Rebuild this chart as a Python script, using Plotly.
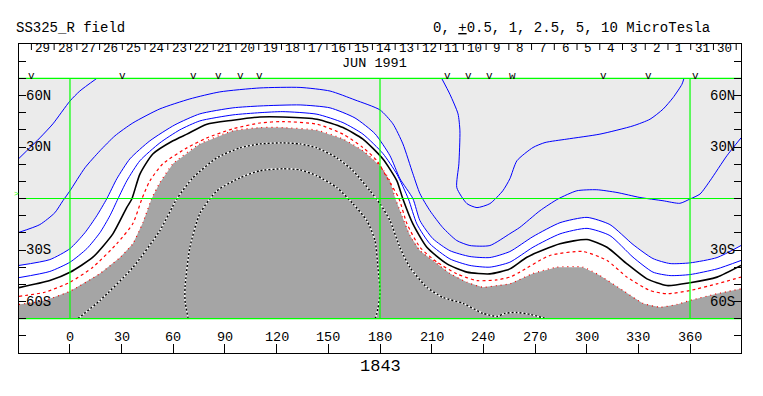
import plotly.graph_objects as go

# ---------------- axes extents ----------------
LON_RANGE = [-29.6, 389.6]
LAT_RANGE = [-90, 90]
LAT_TOP, LAT_BOT = 70, -70

# ---------------- contour traces (lon, lat) read from the map ----------------
# neutral line (0 uT)
N0_LON = [-29.6, -11.7, 0, 13.3, 24.9, 33.0, 35.9, 40.6, 48.1, 59.8, 67.9, 79.5, 94.6, 110.3, 123.6, 143.4,
          158.5, 170.1, 181.7, 189.8, 193.3, 199.1, 207.2, 218.9, 230.5, 243.8, 255.4, 265.3, 284.5, 300.2,
          311.8, 323.4, 335.0, 346.6, 360.0, 375.7, 389.6]
N0_LAT = [-51.9, -47.8, -43.0, -34.2, -20.6, -5.2, -0.3, 14.2, 25.9, 33.6, 37.5, 43.3, 45.6, 47.5, 47.5, 46.2,
          41.3, 34.6, 23.0, 10.3, -0.3, -14.8, -28.4, -38.1, -42.9, -43.9, -41.0, -34.2, -26.4, -23.9,
          -28.4, -38.1, -46.8, -50.7, -49.1, -45.8, -39.0]
# -0.5 uT
M05_LON = [-29.6, -11.7, 0, 9.8, 17.4, 23.2, 27.8, 33.0, 40.6, 52.2, 63.8, 75.4, 94.6, 110.3, 123.6, 143.4,
           158.5, 170.1, 181.7, 189.8, 196.5, 201.4, 209.0, 220.6, 232.2, 243.8, 255.4, 268.8, 284.5, 300.2,
           313.5, 326.9, 338.5, 348.4, 360.0, 375.7, 389.6]
M05_LAT = [-46.1, -42.5, -37.1, -29.2, -19.9, -10.0, -0.3, 10.3, 22.0, 32.4, 40.0, 45.2, 48.7, 50.0, 50.6, 49.1,
           44.2, 37.5, 26.2, 14.2, -0.3, -14.8, -26.4, -35.2, -39.0, -40.0, -37.1, -28.4, -20.6, -17.4,
           -21.6, -34.2, -42.9, -44.9, -44.3, -41.0, -36.1]
# -1 uT
M1_LON = [-29.6, -11.7, 0, 8.7, 15.6, 21.4, 27.2, 34.8, 46.4, 60.9, 75.4, 94.6, 110.3, 133.6, 151.0, 165.5,
          177.1, 185.8, 191.6, 199.1, 203.2, 210.7, 220.6, 232.2, 243.8, 255.4, 268.8, 284.5, 300.2, 313.5,
          326.9, 338.5, 348.4, 360.0, 375.7, 389.6]
M1_LAT = [-39.0, -35.6, -29.2, -19.9, -10.0, -0.1, 11.5, 23.1, 33.6, 42.9, 49.3, 52.8, 53.9, 54.5, 52.8, 46.9,
          37.7, 24.9, 11.5, -0.1, -12.9, -23.4, -30.4, -33.8, -34.4, -30.9, -22.2, -14.1, -11.0, -15.2,
          -26.8, -35.0, -37.9, -37.5, -34.4, -27.4]
# -2.5 uT
M25_LON = [-29.6, -17.5, -8.8, -4.1, 0, 8.7, 17.4, 26.1, 36.5, 52.2, 69.6, 87.0, 110.3, 133.6, 151.0, 165.5,
           180.0, 187.5, 193.3, 199.1, 203.2, 209.0, 216.5, 224.6, 232.2, 243.8, 255.4, 261.2, 272.9, 283.3,
           294.3, 305.9, 317.6, 330.9, 344.3, 354.1, 360.0, 365.8, 371.6, 381.4, 389.6]
M25_LAT = [-19.7, -15.2, -8.3, -1.3, 4.5, 17.9, 27.8, 36.5, 44.0, 52.2, 58.0, 62.1, 64.4, 64.7, 62.6, 57.4,
           51.6, 43.5, 31.8, 14.4, 2.8, -7.1, -17.0, -24.5, -27.4, -27.4, -20.5, -16.8, -7.1, -0.3,
           4.5, 5.1, 3.5, 0.6, -1.3, -2.8, -0.3, 2.6, 10.3, 24.9, 35.3]
# -5 uT (two pieces)
M5A_LON = [-29.6, -17.5, -9.9, 0, 5.7, 15.6]
M5A_LAT = [23.4, 35.3, 43.5, 56.8, 62.6, 70.0]
M5B_LON = [215.8, 220.6, 225.3, 226.4, 225.8, 224.6, 230.5, 236.3, 243.8, 251.3, 255.4, 259.5, 268.8, 275.8,
           288.5, 307.7, 326.9, 336.8, 344.3, 350.1, 355.3, 356.5]
M5B_LAT = [70.0, 60.7, 49.3, 39.4, 20.2, 6.3, -3.0, -5.3, -3.0, 4.5, 11.5, 22.0, 29.7, 32.6,
           34.6, 37.5, 42.3, 46.2, 52.0, 58.7, 66.5, 70.0]
# +0.5 uT
P05_LON = [-29.6, -14.6, 0, 13.3, 27.2, 36.5, 41.8, 46.4, 53.9, 67.9, 79.5, 94.6, 110.3, 123.6, 143.4, 158.5,
           170.1, 178.2, 184.0, 191.0, 195.6, 203.2, 213.1, 224.6, 236.3, 247.9, 255.4, 261.2, 278.6, 297.8,
           311.8, 323.4, 336.8, 346.6, 360.0, 375.7, 389.6]
P05_LAT = [-57.0, -54.6, -48.8, -40.0, -26.3, -14.6, -0.1, 10.3, 20.2, 29.5, 35.3, 40.6, 44.0, 44.8, 43.3, 37.5,
           29.7, 22.0, 12.3, 0.0, -14.6, -28.4, -37.1, -43.9, -47.8, -47.4, -45.8, -42.9, -33.2, -30.9,
           -36.1, -45.8, -53.6, -55.5, -53.6, -49.7, -45.8]
# +1 uT
P1_LON = [-29.6, -14.6, 0, 17.4, 29.0, 36.5, 42.3, 47.4, 52.2, 59.8, 75.4, 94.6, 110.3, 123.6, 143.4, 158.5,
          170.1, 180.0, 185.8, 188.7, 192.7, 197.4, 203.2, 210.7, 220.6, 230.5, 239.7, 247.9, 255.4, 268.8,
          282.7, 297.8, 307.7, 321.1, 332.7, 342.6, 352.4, 359.9, 375.5, 389.6]
P1_LAT = [-61.7, -59.4, -54.0, -43.7, -34.4, -26.3, -14.1, -0.1, 9.2, 20.2, 31.8, 39.4, 41.3, 41.3, 39.8, 34.6,
          27.8, 19.1, 10.3, 0.6, -10.0, -21.6, -30.4, -36.1, -43.7, -48.8, -51.7, -50.7, -49.7, -43.7,
          -40.0, -40.0, -44.9, -53.6, -61.1, -63.3, -61.7, -59.4, -55.5, -52.6]
# +2.5 uT
P25_LON = [4.6, 17.4, 36.5, 52.2, 62.1, 71.4, 85.3, 98.7, 110.3, 123.6, 133.5, 143.4, 155.0, 164.3, 174.2,
           180.0, 185.8, 191.6, 197.4, 207.3, 216.5, 228.2, 239.8, 248.0, 252.6, 259.6, 267.1, 276.4]
P25_LAT = [-70.0, -59.4, -40.2, -18.7, -0.1, 12.1, 23.7, 29.5, 31.8, 32.4, 31.8, 29.5, 23.7, 16.2, 4.5,
           -3.0, -12.9, -28.6, -40.2, -51.8, -57.6, -61.1, -66.9, -68.7, -66.9, -66.4, -67.5, -70.0]
# +5 uT
P5_LON = [68.6, 66.8, 66.8, 69.6, 75.4, 85.3, 98.7, 110.3, 123.6, 133.5, 143.4, 155.0, 164.3, 172.4, 177.1,
          178.8, 180.0, 178.2, 177.1]
P5_LAT = [-70.0, -59.4, -51.8, -28.6, -8.8, 4.5, 12.1, 16.2, 17.3, 16.7, 13.2, 6.3, -3.0, -12.9, -24.5,
          -40.2, -55.3, -66.9, -70.0]

# ---------------- ticks / labels ----------------
LON_TICKS = [0, 30, 60, 90, 120, 150, 180, 210, 240, 270, 300, 330, 360]
LAT_TICKS = [-90, -80, -70, -60, -50, -40, -30, -20, -10, 0, 10, 20, 30, 40, 50, 60, 70, 80, 90]
LAT_LABELS = {60: "60N", 30: "30N", -30: "30S", -60: "60S"}
GRID_LON = [0, 180, 360]
GRID_LAT = [-70, 0, 70]
DAY_TICK_LON = [-22.4, -9.2, 4.0, 17.2, 30.4, 43.6, 56.8, 70.0, 83.2, 96.4, 109.6, 122.8, 136.0, 149.2, 162.4,
                175.6, 188.8, 202.0, 215.2, 228.4, 241.6, 254.8, 268.0, 281.2, 294.4, 307.6, 320.8, 334.0,
                347.2, 360.4, 373.6, 386.8]
DAY_LABELS = ["29", "28", "27", "26", "25", "24", "23", "22", "21", "20", "19", "18", "17", "16", "15",
              "14", "13", "12", "11", "10", "9", "8", "7", "6", "5", "4", "3", "2", "1", "31", "30"]
MARK_LON = [-22.3, 30.5, 71.5, 86.5, 99.1, 110.3, 219.3, 231.2, 243.8, 257.0, 309.6, 335.8, 362.9]
MARK_TXT = ["v", "v", "v", "v", "v", "v", "v", "v", "v", "w", "v", "v", "v"]

FONT = "Liberation Mono, DejaVu Sans Mono, monospace"
BLUE, RED, GREEN = "#0000FF", "#FF0000", "#00FF00"

fig = go.Figure()


def add_line(lon, lat, color, width, dash="solid", shape="spline"):
    fig.add_trace(go.Scatter(x=lon, y=lat, mode="lines",
                             line=dict(color=color, width=width, dash=dash, shape=shape, smoothing=0.6),
                             hoverinfo="skip", showlegend=False))


# fills: light grey (B < -1) and dark grey (B > +1)
fig.add_trace(go.Scatter(x=M1_LON + [LON_RANGE[1], LON_RANGE[0]], y=M1_LAT + [LAT_TOP, LAT_TOP],
                         mode="lines", fill="toself", fillcolor="#EBEBEB", line=dict(width=0),
                         hoverinfo="skip", showlegend=False))
fig.add_trace(go.Scatter(x=P1_LON + [LON_RANGE[1], LON_RANGE[0]], y=P1_LAT + [LAT_BOT, LAT_BOT],
                         mode="lines", fill="toself", fillcolor="#A5A5A5", line=dict(width=0),
                         hoverinfo="skip", showlegend=False))

# contour lines
add_line(M5A_LON, M5A_LAT, BLUE, 1)
add_line(M5B_LON, M5B_LAT, BLUE, 1)
add_line(M25_LON, M25_LAT, BLUE, 1)
add_line(M1_LON, M1_LAT, BLUE, 1)
add_line(M05_LON, M05_LAT, BLUE, 1)
add_line(N0_LON, N0_LAT, "black", 1.6)
add_line(P05_LON, P05_LAT, RED, 1.2, dash="3px,3px")
add_line(P1_LON, P1_LAT, RED, 1.2, dash="1px,4px")
for lo, la in ((P25_LON, P25_LAT), (P5_LON, P5_LAT)):
    add_line(lo, la, "white", 1.4)
    add_line(lo, la, "black", 1.4, dash="2px,2px")

# green reference lines
gx, gy = [], []
for lo in GRID_LON:
    gx += [lo, lo, None]
    gy += [LAT_BOT, LAT_TOP, None]
for la in GRID_LAT:
    gx += [LON_RANGE[0], LON_RANGE[1], None]
    gy += [la, la, None]
fig.add_trace(go.Scatter(x=gx, y=gy, mode="lines", line=dict(color=GREEN, width=1.2),
                         hoverinfo="skip", showlegend=False))

# day separator ticks in the top band
dx, dy = [], []
for lo in DAY_TICK_LON:
    dx += [lo, lo, None]
    dy += [90, 86.5, None]
fig.add_trace(go.Scatter(x=dx, y=dy, mode="lines", line=dict(color="black", width=1),
                         hoverinfo="skip", showlegend=False))


def txt(x, y, s, size=14, xref="x", yref="y", xanchor="center", yanchor="middle", color="black"):
    fig.add_annotation(x=x, y=y, text=s, xref=xref, yref=yref, showarrow=False,
                       xanchor=xanchor, yanchor=yanchor, borderpad=0,
                       font=dict(family=FONT, size=size, color=color))


for i, lab in enumerate(DAY_LABELS):
    txt((DAY_TICK_LON[i] + DAY_TICK_LON[i + 1]) / 2, 87.0, lab, size=12.5)
txt(176.7, 78.5, "JUN 1991", size=13.5)
for lo, m in zip(MARK_LON, MARK_TXT):
    txt(lo, 71.6, m, size=11)
for lo in LON_TICKS:
    txt(lo, -81.0, str(lo), size=13.5)
for la, lab in LAT_LABELS.items():
    txt(0.0085, la, lab, size=14, xref="paper", xanchor="left")
    txt(0.9925, la, lab, size=14, xref="paper", xanchor="right")
txt(-0.006, 1.053, "SS325_R field", size=14, xref="paper", yref="paper", xanchor="left")
txt(0.958, 1.053, "0, <u>+</u>0.5, 1, 2.5, 5, 10 MicroTesla", size=14, xref="paper", yref="paper",
    xanchor="right")
txt(180, -0.045, "1843", size=17, yref="paper")
txt(-0.003, 2.8, "&gt;", size=8, xref="paper", color=GREEN)

# the page body keeps an 8 px margin, so the figure is sized / offset to land the frame where it belongs
fig.update_layout(
    width=755, height=388,
    margin=dict(l=11, r=22, t=36, b=43),
    paper_bgcolor="white", plot_bgcolor="white",
    showlegend=False,
    xaxis=dict(range=LON_RANGE, tickvals=LON_TICKS, ticks="inside", ticklen=9, tickwidth=1,
               tickcolor="black", showticklabels=False, showgrid=False, zeroline=False,
               showline=True, linecolor="black", linewidth=1, mirror=True),
    yaxis=dict(range=LAT_RANGE, tickvals=LAT_TICKS, ticks="inside", ticklen=7, tickwidth=1,
               tickcolor="black", showticklabels=False, showgrid=False, zeroline=False,
               showline=True, linecolor="black", linewidth=1, mirror="ticks"),
)

fig.write_html("out.html")
